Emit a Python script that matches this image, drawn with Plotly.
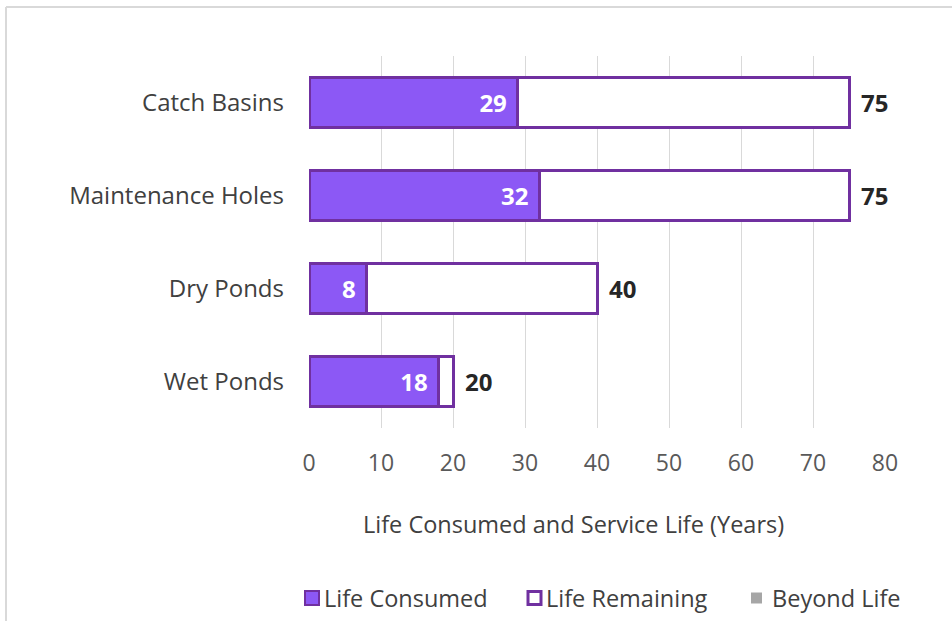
import plotly.graph_objects as go

# Asset classes and their lifecycle figures (years)
categories = ["Catch Basins", "Maintenance Holes", "Dry Ponds", "Wet Ponds"]
life_consumed = [29, 32, 8, 18]
service_life = [75, 75, 40, 20]
beyond_life = [0, 0, 0, 0]
x_ticks = [0, 10, 20, 30, 40, 50, 60, 70, 80]

life_remaining = [s - c for s, c in zip(service_life, life_consumed)]

PURPLE_FILL = "#8c58f5"
PURPLE_LINE = "#7030a0"
FONT = "Open Sans"

# plot area in pixels
W, H = 952, 621
L, R, T, B = 309, 67, 56, 193
PW, PH = W - L - R, H - T - B


def px(x):
    return (x - L) / PW


def py(y):
    return (H - B - y) / PH


fig = go.Figure()
fig.add_trace(go.Bar(
    y=categories, x=life_consumed, orientation="h", name="Life Consumed",
    marker=dict(color=PURPLE_FILL, line=dict(color=PURPLE_LINE, width=3)),
    text=[f"{v}\u2009\u2009" for v in life_consumed], textposition="inside",
    insidetextanchor="end",
    textfont=dict(family=FONT, size=24, color="white", weight="bold"),
    showlegend=False,
))
fig.add_trace(go.Bar(
    y=categories, x=life_remaining, orientation="h", name="Life Remaining",
    marker=dict(color="white", line=dict(color=PURPLE_LINE, width=3)),
    showlegend=False,
))
fig.add_trace(go.Bar(
    y=categories, x=beyond_life, orientation="h", name="Beyond Life",
    marker=dict(color="#a6a6a6", line=dict(width=0)),
    showlegend=False,
))

# service life totals at the end of each bar
for cat, total in zip(categories, service_life):
    fig.add_annotation(
        x=total, y=cat, xref="x", yref="y", text=str(total), showarrow=False,
        xanchor="left", xshift=10,
        font=dict(family=FONT, size=24, color="#262626", weight="bold"),
    )

# axis title
fig.add_annotation(
    x=px(573), y=py(524), xref="paper", yref="paper", showarrow=False,
    text="Life Consumed and Service Life (Years)",
    xanchor="center", yanchor="middle",
    font=dict(family=FONT, size=23.5, color="#404040"),
)

# legend drawn as swatches and labels
legend_items = [
    ("Life Consumed", PURPLE_FILL, PURPLE_LINE, 2, 305, 319, 322),
    ("Life Remaining", "white", PURPLE_LINE, 3, 528, 541, 544),
    ("Beyond Life", "#a6a6a6", "#a6a6a6", 0, 751, 762, 770),
]
for label, fill, line, lw, x0, x1, tx in legend_items:
    size = x1 - x0
    fig.add_shape(
        type="rect", xref="paper", yref="paper",
        x0=px(x0), x1=px(x1), y0=py(598 + size / 2), y1=py(598 - size / 2),
        fillcolor=fill, line=dict(color=line, width=lw),
    )
    fig.add_annotation(
        x=px(tx), y=py(598), xref="paper", yref="paper", showarrow=False,
        text=label, xanchor="left", yanchor="middle",
        font=dict(family=FONT, size=23.5, color="#404040"),
    )

# chart area border (top and left edges)
fig.add_shape(type="line", xref="paper", yref="paper",
              x0=px(6), x1=px(952), y0=py(7), y1=py(7),
              line=dict(color="#d9d9d9", width=2))
fig.add_shape(type="line", xref="paper", yref="paper",
              x0=px(6), x1=px(6), y0=py(7), y1=py(621),
              line=dict(color="#d9d9d9", width=2))

fig.update_layout(
    width=W, height=H,
    margin=dict(l=L, r=R, t=T, b=B, pad=0),
    barmode="stack", bargap=0.46,
    paper_bgcolor="white", plot_bgcolor="white",
    font=dict(family=FONT, color="#404040"),
    showlegend=False,
    xaxis=dict(
        range=[0, 80], tickvals=x_ticks, showgrid=True, gridcolor="#d9d9d9",
        gridwidth=1, zeroline=False, showline=False, ticks="",
        tickfont=dict(family=FONT, size=23, color="#595959"),
        ticklabelstandoff=19,
    ),
    yaxis=dict(
        categoryorder="array", categoryarray=categories[::-1],
        showgrid=False, zeroline=False, showline=False, ticks="",
        tickfont=dict(family=FONT, size=24, color="#404040"),
        ticklabelstandoff=24,
    ),
)

fig.write_html("out.html")
